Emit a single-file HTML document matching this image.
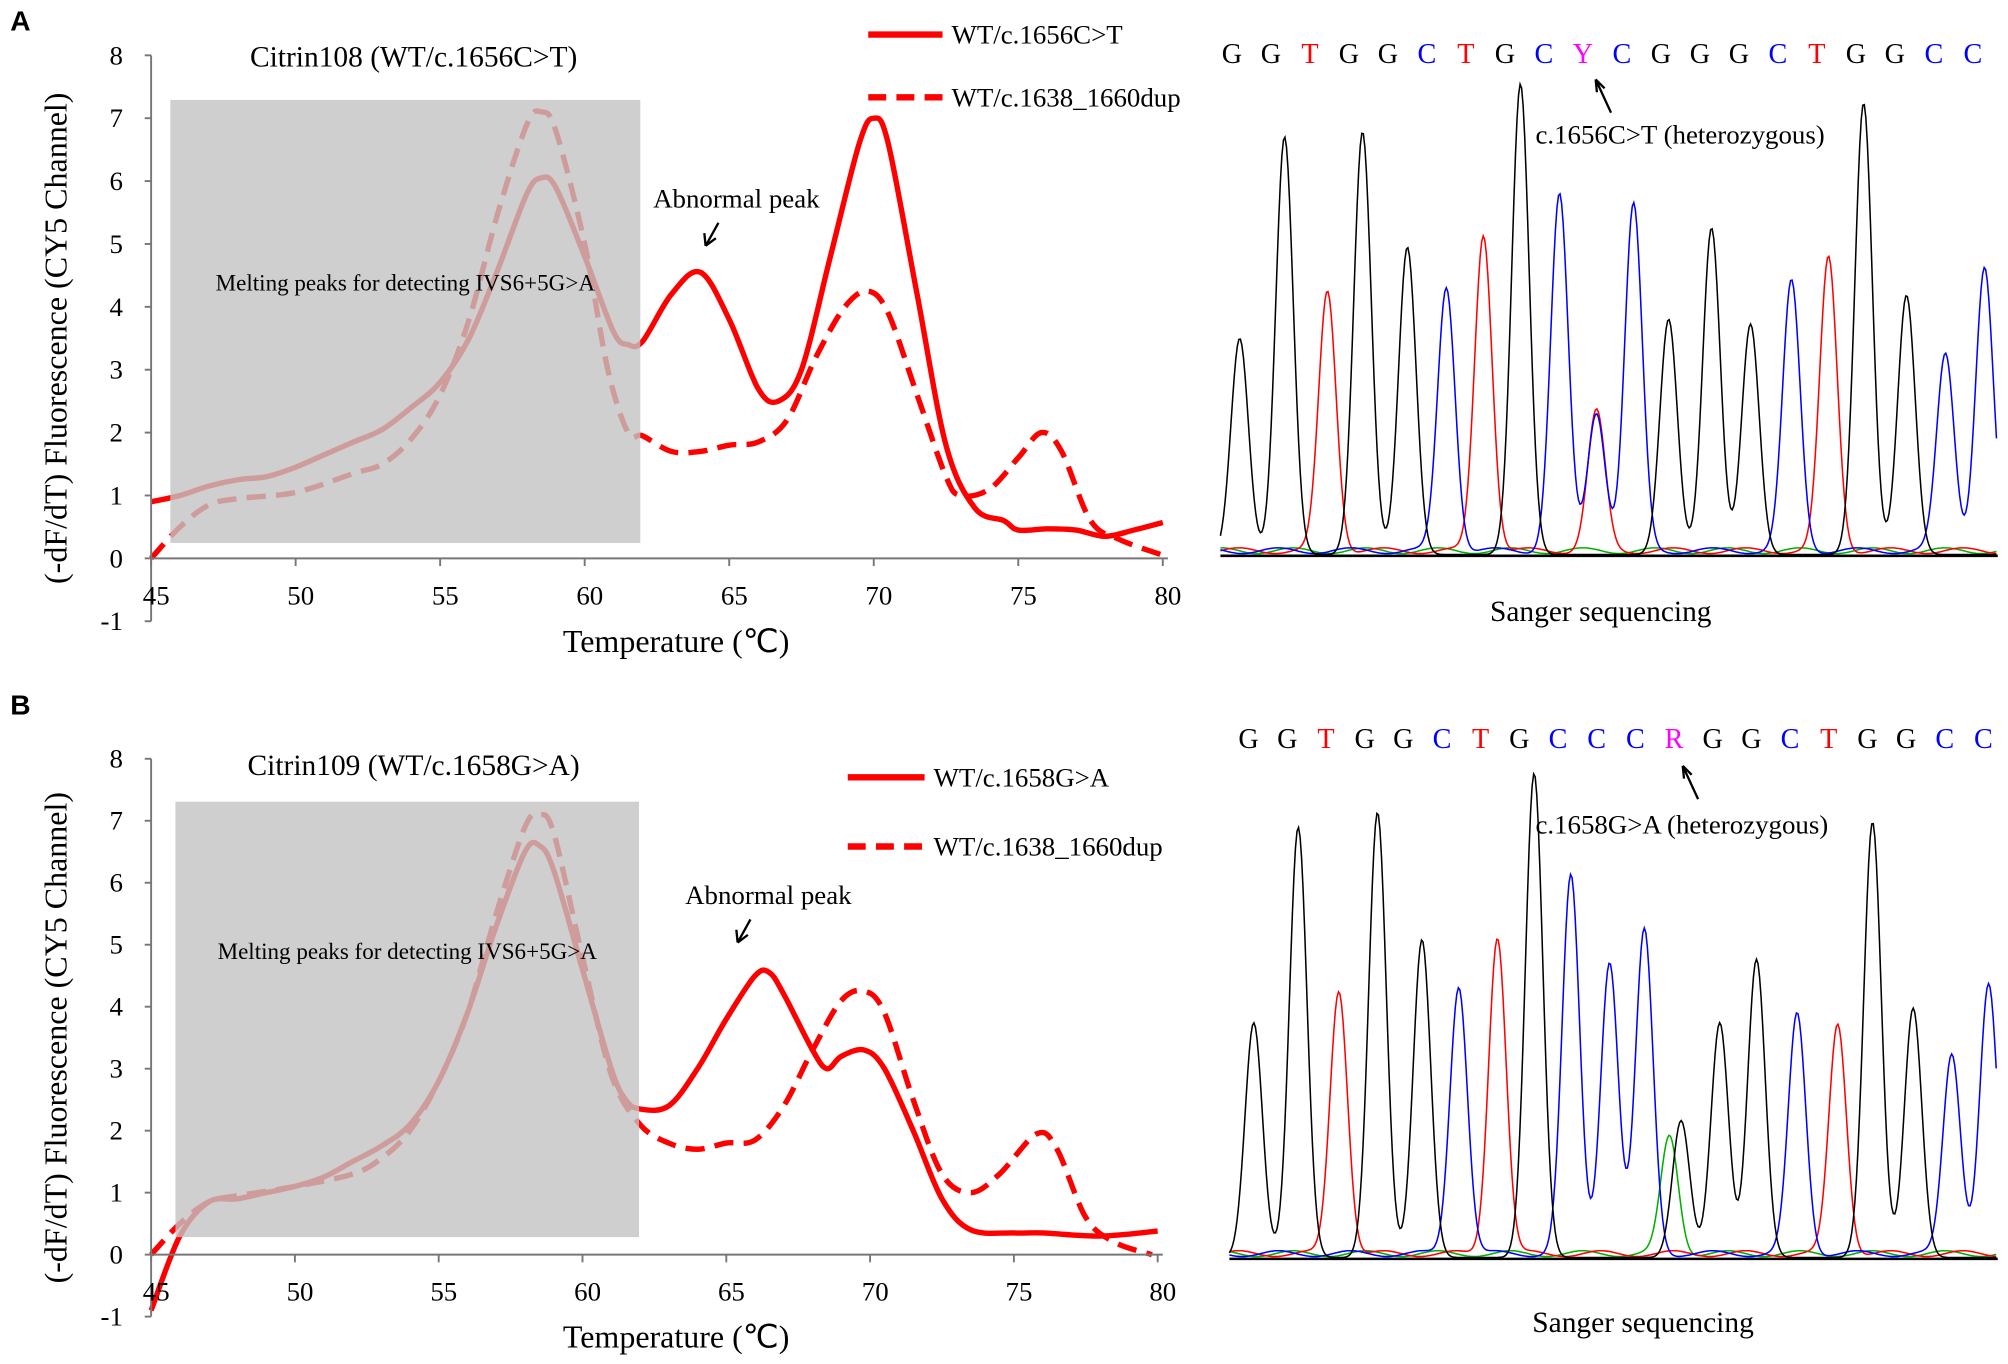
<!DOCTYPE html>
<html><head><meta charset="utf-8">
<style>
html,body{margin:0;padding:0;background:#fff;}
svg{display:block;}
text{font-family:"Liberation Serif",serif;fill:#000;}
.lab{font-family:"Liberation Sans",sans-serif;font-weight:bold;}
</style></head>
<body>
<svg id="fig" width="2008" height="1364" viewBox="0 0 1568 1065.1" preserveAspectRatio="none" xmlns="http://www.w3.org/2000/svg">
<g id="root"></g>
</svg>
<script>
// ---- Melting curve data ----
const tempA_solid = [45,46,47,48,49,50,51,52,53,54,55,56,57,58,58.5,59,60,61,61.5,62,63,64,65,66,66.7,67.5,68.5,69.5,70,70.5,71.5,72.5,73.5,74.5,75,76,77,78,79,80];
const valA_solid  = [0.9,1.0,1.15,1.25,1.3,1.45,1.65,1.85,2.05,2.4,2.8,3.5,4.6,5.8,6.05,5.9,4.8,3.6,3.4,3.45,4.2,4.55,3.8,2.7,2.5,3.0,4.8,6.6,7.0,6.6,4.2,1.8,0.8,0.6,0.45,0.47,0.45,0.35,0.45,0.57];
const tempA_dash  = [45,46,47,48,50,52,53,54,55,56,57,58,58.5,59,60,60.8,61.5,62,63,64,65,66,67,68,69,69.8,70.5,71.5,72.5,73,74,75,75.8,76.5,77.5,78.5,80];
const valA_dash   = [0,0.5,0.85,0.95,1.05,1.35,1.5,1.9,2.6,3.8,5.5,6.9,7.1,6.8,5.0,3.0,2.0,1.95,1.7,1.7,1.8,1.85,2.2,3.2,4.0,4.25,3.9,2.6,1.3,1.0,1.1,1.6,2.0,1.7,0.6,0.3,0.05];
const tempB_solid = [45,46,47,48,49,50,51,52,53,54,55,56,57,58,58.5,59,60,61,61.5,62,63,64,65,66,66.5,67,68,68.5,69,69.8,70.5,71.5,72.5,73.5,75,76,78,80];
const valB_solid  = [-0.9,0.3,0.85,0.9,1.0,1.1,1.25,1.5,1.75,2.1,2.8,3.9,5.3,6.5,6.6,6.2,4.6,3.0,2.5,2.35,2.4,3.0,3.8,4.5,4.55,4.2,3.3,3.0,3.2,3.3,3.0,2.0,0.9,0.4,0.35,0.35,0.3,0.38];
const tempB_dash  = [45,46,47,48,50,52,53,54,55,56,57,58,58.5,59,60,61,62,63,64,65,66,67,68,69,69.8,70.5,71.5,72.5,73.5,74.5,75.8,76.5,77.5,78.5,79.8];
const valB_dash   = [0,0.5,0.85,0.95,1.1,1.3,1.55,2.0,2.8,3.9,5.5,6.9,7.1,6.8,4.8,2.9,2.1,1.8,1.7,1.8,1.85,2.4,3.3,4.1,4.25,3.9,2.5,1.3,1.0,1.3,1.95,1.7,0.6,0.2,0];
const xTicks = [45,50,55,60,65,70,75,80];
const yTicks = [-1,0,1,2,3,4,5,6,7,8];

// ---- Sanger data ----
const basesA = ["G","G","T","G","G","C","T","G","C","Y","C","G","G","G","C","T","G","G","C","C"];
const basesB = ["G","G","T","G","G","C","T","G","C","C","C","R","G","G","C","T","G","G","C","C"];
const peakChanA = ["k","k","r","k","k","b","r","k","b","r","b","b","k","k","k","b","r","k","k","b","b"];
const peakPosA  = [0.1,1.25,2.35,3.25,4.4,5.4,6.35,7.3,8.3,9.25,9.25,10.2,11.1,12.2,13.2,14.25,15.2,16.1,17.2,18.2,19.2];
const peakHtA   = [0.45,0.87,0.54,0.88,0.64,0.55,0.66,0.98,0.74,0.29,0.29,0.72,0.49,0.68,0.48,0.56,0.61,0.94,0.54,0.41,0.59];
const peakChanB = ["k","k","r","k","k","b","r","k","b","b","b","g","k","k","k","b","r","k","k","b","b"];
const peakPosB  = [0.1,1.25,2.3,3.3,4.45,5.4,6.4,7.35,8.3,9.3,10.2,10.85,11.15,12.15,13.1,14.15,15.2,16.1,17.15,18.15,19.1];
const peakHtB   = [0.48,0.88,0.54,0.91,0.65,0.55,0.65,0.99,0.77,0.60,0.66,0.24,0.28,0.48,0.61,0.49,0.47,0.89,0.51,0.41,0.55];

const NS="http://www.w3.org/2000/svg";
const root=document.getElementById('root');
function mk(tag,attrs,parent){const e=document.createElementNS(NS,tag);for(const k in attrs)e.setAttribute(k,attrs[k]);(parent||root).appendChild(e);return e;}
function txt(s,x,y,size,attrs,parent){const t=mk('text',Object.assign({x:x,y:y,'font-size':size},attrs||{}),parent);t.textContent=s;return t;}
function smooth(pts){let d='M'+pts[0][0].toFixed(2)+','+pts[0][1].toFixed(2);
 for(let i=0;i<pts.length-1;i++){const p0=pts[i-1]||pts[i],p1=pts[i],p2=pts[i+1],p3=pts[i+2]||p2;
  const c1=[p1[0]+(p2[0]-p0[0])/6,p1[1]+(p2[1]-p0[1])/6],c2=[p2[0]-(p3[0]-p1[0])/6,p2[1]-(p3[1]-p1[1])/6];
  d+=' C'+c1[0].toFixed(2)+','+c1[1].toFixed(2)+' '+c2[0].toFixed(2)+','+c2[1].toFixed(2)+' '+p2[0].toFixed(2)+','+p2[1].toFixed(2);}
 return d;}

function meltPanel(cfg){
 const g=mk('g',{});
 
 
 const X=t=>cfg.x0+(t-45)*(cfg.x1-cfg.x0)/35;
 const Y=v=>cfg.y0-v*cfg.ky;
 const sp=(ts,vs)=>ts.map((t,i)=>[X(t),Y(vs[i])]);
 const s=mk('path',{d:smooth(sp(cfg.ts,cfg.vs)),fill:'none',stroke:'#ff0000','stroke-width':4.2},g);
 
 
 const dsh=mk('path',{d:smooth(sp(cfg.td,cfg.vd)),fill:'none',stroke:'#ff0000','stroke-width':4.2,'stroke-dasharray':'15,8'},g);
 
 
 const r=mk('rect',{x:cfg.bx,y:cfg.by,width:cfg.bw,height:cfg.bh,fill:'#c3c3c3','fill-opacity':0.8},g);
 
 
 const bt=txt('Melting peaks for detecting IVS6+5G>A',cfg.bx+cfg.bw/2,cfg.btY,18,{'text-anchor':'middle'},g);
 
 
 const ax=mk('path',{d:`M${cfg.x0},${Y(8)}V${Y(-1)}M${cfg.x0},${Y(0)}H${cfg.x1+4}`,stroke:'#777','stroke-width':1.5,fill:'none'},g);
 
 
 yTicks.forEach(v=>{mk('line',{x1:cfg.x0-5,x2:cfg.x0,y1:Y(v),y2:Y(v),stroke:'#777','stroke-width':1.5},g);
  const t=txt(String(v),cfg.x0-22,Y(v)+7,21,{'text-anchor':'end'},g);
  
  });
 xTicks.forEach(v=>{mk('line',{x1:X(v),x2:X(v),y1:Y(0),y2:Y(0)+6,stroke:'#777','stroke-width':1.5},g);
  const t=txt(String(v),X(v)+4,Y(0)+36,21,{'text-anchor':'middle'},g);
  
  });
 const xt=txt('Temperature (℃)',528,Y(-1)+24,25,{'text-anchor':'middle'},g);
 
 
 const yt=txt('(-dF/dT) Fluorescence (CY5 Channel)',0,0,25,{'text-anchor':'middle',transform:`translate(52,${(Y(8)+Y(-1))/2}) rotate(-90)`},g);
 
 
 const tt=txt(cfg.title,cfg.titleX,cfg.titleY,23,{'text-anchor':'middle'},g);
 
 
 const l1=mk('line',{x1:cfg.lx0,x2:cfg.lx1,y1:cfg.ly1,y2:cfg.ly1,stroke:'#ff0000','stroke-width':5},g);
 
 
 const lt1=txt(cfg.leg1,cfg.lx1+7,cfg.ly1+7,21,{},g);
 
 
 const l2=mk('line',{x1:cfg.lx0,x2:cfg.lx1,y1:cfg.ly2,y2:cfg.ly2,stroke:'#ff0000','stroke-width':5,'stroke-dasharray':'14,8'},g);
 
 
 const lt2=txt('WT/c.1638_1660dup',cfg.lx1+7,cfg.ly2+7,21,{},g);
 
 
 const at=txt('Abnormal peak',cfg.ax,cfg.ay,21,{'text-anchor':'middle'},g);
 
 
 const ar=mk('path',{d:`M${cfg.ax-14},${cfg.ay+12}L${cfg.ax-24},${cfg.ay+30}M${cfg.ax-24},${cfg.ay+30}l-1,-10M${cfg.ax-24},${cfg.ay+30}l8,-6`,stroke:'#000','stroke-width':1.8,fill:'none'},g);
 
 
}

meltPanel({name:'melt-chart-a',x0:118,x1:908,y0:436,ky:49.1,ts:tempA_solid,vs:valA_solid,td:tempA_dash,vd:valA_dash,
 bx:133,by:78,bw:367,bh:346,btY:227,title:'Citrin108 (WT/c.1656C>T)',titleX:323,titleY:52,
 leg1:'WT/c.1656C>T',lx0:678,lx1:736,ly1:27,ly2:76,ax:575,ay:162});
meltPanel({name:'melt-chart-b',x0:118,x1:904,y0:979.7,ky:48.4,ts:tempB_solid,vs:valB_solid,td:tempB_dash,vd:valB_dash,
 bx:137,by:626,bw:362,bh:340,btY:749,title:'Citrin109 (WT/c.1658G>A)',titleX:323,titleY:605,
 leg1:'WT/c.1658G>A',lx0:662,lx1:722,ly1:607,ly2:661,ax:600,ay:706});

const colors={k:'#000',r:'#ff0000',b:'#0000ff',g:'#00b000'};
const baseColor={G:'#000',T:'#ff0000',C:'#0000ff',A:'#00a000',Y:'#ff00ff',R:'#ff00ff'};
function sanger(cfg){
 const g=mk('g',{});
 
 
 const X=p=>cfg.x0+p*cfg.dx;
 const H=h=>cfg.base-h*cfg.hs;
 ['g','r','b','k'].forEach(ch=>{
  const pts=[];
  for(let x=cfg.xs;x<=cfg.xe;x+=1.2){
   let y=0;
   cfg.chan.forEach((c,i)=>{if(c===ch){const d=(x-X(cfg.pos[i]))/6.8;y+=cfg.ht[i]*Math.exp(-d*d/2);}});
   if(ch!=='k')y+=0.008+0.006*Math.sin(x/9+ch.charCodeAt(0));
   pts.push(x.toFixed(1)+','+H(y).toFixed(1));
  }
  const p=mk('polyline',{points:pts.join(' '),fill:'none',stroke:colors[ch],'stroke-width':1.2},g);
  
  
 });
 const bl=mk('line',{x1:cfg.xs,x2:cfg.xe,y1:cfg.base+1,y2:cfg.base+1,stroke:'#000','stroke-width':2},g);
 
 
 cfg.bases.forEach((b,i)=>{
  const t=txt(b,cfg.lx0+i*cfg.ldx,cfg.ly,22,{'text-anchor':'middle',fill:baseColor[b]},g);
  
  
  t.style.fill=baseColor[b];
 });
 const ar=mk('path',{d:`M${cfg.arx+12},${cfg.ary+26}L${cfg.arx},${cfg.ary}M${cfg.arx},${cfg.ary}l1,10M${cfg.arx},${cfg.ary}l7,7`,stroke:'#000','stroke-width':1.8,fill:'none'},g);
 
 
 const mt=txt(cfg.mut,cfg.mx,cfg.my,21,{},g);
 
 
 const st=txt('Sanger sequencing',cfg.sx,cfg.sy,23,{'text-anchor':'middle'},g);
 
 
}
sanger({name:'sanger-a',x0:965,dx:30.45,base:433,hs:375,xs:953,xe:1560,chan:peakChanA,pos:peakPosA,ht:peakHtA,
 bases:basesA,lx0:962,ldx:30.45,ly:49,arx:1246,ary:62,mut:'c.1656C>T (heterozygous)',mx:1199,my:112,sx:1250,sy:485});
sanger({name:'sanger-b',x0:976,dx:30.2,base:982,hs:382,xs:960,xe:1560,chan:peakChanB,pos:peakPosB,ht:peakHtB,
 bases:basesB,lx0:975,ldx:30.2,ly:584,arx:1314,ary:598,mut:'c.1658G>A (heterozygous)',mx:1199,my:651,sx:1283,sy:1040});

const la=txt('A',8,24,22,{'class':'lab'});


const lb=txt('B',8,558,22,{'class':'lab'});


</script>
</body></html>
